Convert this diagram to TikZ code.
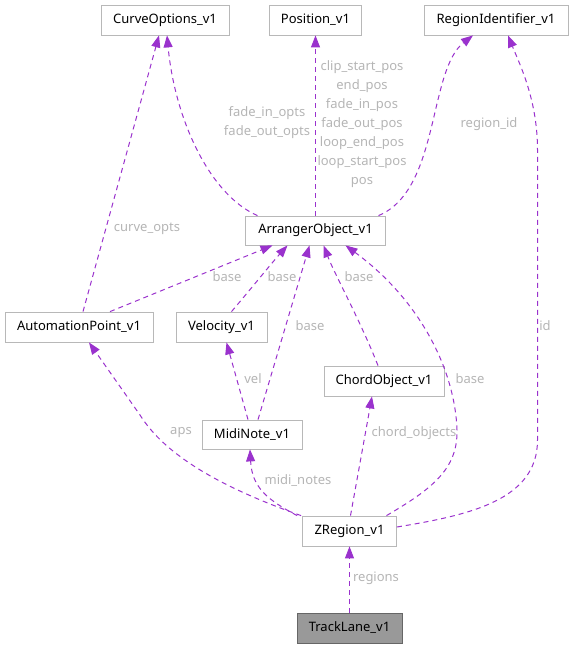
\documentclass[tikz,border=0pt]{standalone}
\usepackage{fontspec}
\setmainfont{Noto Sans}
\usetikzlibrary{arrows.meta,calc}
\definecolor{edgec}{HTML}{9A32CD}
\definecolor{lblc}{HTML}{B5B5B5}
\definecolor{boxc}{HTML}{B8B8B8}
\definecolor{tlfill}{HTML}{999999}
\definecolor{tlbord}{HTML}{666666}
\tikzset{
  cls/.style={draw=boxc, line width=0.8pt, fill=white, inner sep=0pt, minimum height=30pt, font=\fontsize{13}{16}\selectfont},
  rel/.style={draw=edgec, line width=1pt, dash pattern=on 5pt off 4pt, -{Triangle[length=12pt,width=9pt]}, fill=none},
  lbl/.style={text=lblc, inner sep=0pt, align=center, font=\fontsize{13}{19}\selectfont},
}
\begin{document}
\begin{tikzpicture}[x=1pt,y=-1pt]
\useasboundingbox (0,0) rectangle (574,648);
% nodes
\node[cls, minimum width=128pt] (co) at (165,20) {CurveOptions\_v1};
\node[cls, minimum width=92pt] (pos) at (315.5,20) {Position\_v1};
\node[cls, minimum width=144pt] (ri) at (496,20) {RegionIdentifier\_v1};
\node[cls, minimum width=140pt, minimum height=29pt] (ao) at (315.5,230.5) {ArrangerObject\_v1};
\node[cls, minimum width=148pt] (ap) at (79,327) {AutomationPoint\_v1};
\node[cls, minimum width=91pt] (vel) at (221.5,327) {Velocity\_v1};
\node[cls, minimum width=100pt, minimum height=29pt] (mn) at (252,434.5) {MidiNote\_v1};
\node[cls, minimum width=120pt] (ch) at (384,381) {ChordObject\_v1};
\node[cls, minimum width=94pt] (zr) at (349.5,531) {ZRegion\_v1};
\node[cls, draw=tlbord, fill=tlfill, minimum width=105pt] (tl) at (349.5,628) {TrackLane\_v1};
% edges
\draw[rel] ($(ap.north)+(4,0)$) -- ($(co.south)+(-6,0)$);
\draw[rel] ($(ao.north)+(-58,0)$) .. controls (210,195) and (175,120) .. ($(co.south)+(2,0)$);
\draw[rel] (ao.north) -- (pos.south);
\draw[rel] ($(ao.north)+(63,0)$) .. controls (440,190) and (428,70) .. ($(ri.south)+(-23,0)$);
\draw[rel] ($(zr.east)+(0,-4)$) .. controls (470,515) and (537.5,500) .. (537.5,440) -- (537.5,150) .. controls (537.5,100) and (520,65) .. ($(ri.south)+(12,0)$);
\draw[rel] ($(ap.north)+(31,0)$) -- ($(ao.south)+(-43,0)$);
\draw[rel] ($(vel.north)+(10,0)$) .. controls (250,290) and (270,265) .. ($(ao.south)+(-28,0)$);
\draw[rel] ($(mn.north)+(6,0)$) -- ($(ao.south)+(-6,0)$);
\draw[rel] ($(ch.north)+(-6,0)$) .. controls (360,320) and (335,275) .. ($(ao.south)+(8,0)$);
\draw[rel] ($(zr.north)+(37,0)$) .. controls (430,490) and (458,470) .. (457,430) .. controls (455,370) and (420,300) .. ($(ao.south)+(30,0)$);
\draw[rel] ($(mn.north)+(-4,0)$) -- ($(vel.south)+(5,0)$);
\draw[rel] ($(zr.north west)+(-1,0)$) .. controls (220,487) and (165,455) .. (140,415) -- ($(ap.south)+(10,0)$);
\draw[rel] ($(zr.north west)+(-5,0)$) .. controls (268,500) and (252,488) .. ($(mn.south)+(-2,0)$);
\draw[rel] ($(zr.north)+(1,0)$) -- ($(ch.south)+(-12,0)$);
\draw[rel] (tl.north) -- (zr.south);
% labels
\node[lbl] (l1) at (147,229) {curve\_opts};
\node[lbl] (l2) at (267,123) {fade\_in\_opts\\fade\_out\_opts};
\node[lbl] (l3) at (362,124) {clip\_start\_pos\\end\_pos\\fade\_in\_pos\\fade\_out\_pos\\loop\_end\_pos\\loop\_start\_pos\\pos};
\node[lbl] (l4) at (489,124) {region\_id};
\node[lbl] (l5) at (545,326) {id};
\node[lbl] (l6) at (227,277) {base};
\node[lbl] (l7) at (282,277) {base};
\node[lbl] (l8) at (310,326) {base};
\node[lbl] (l9) at (359,277) {base};
\node[lbl] (l10) at (470,379) {base};
\node[lbl] (l11) at (253,379) {vel};
\node[lbl] (l12) at (181,433) {aps};
\node[lbl] (l13) at (414,433) {chord\_objects};
\node[lbl] (l14) at (298,481) {midi\_notes};
\node[lbl] (l15) at (376,578) {regions};
\end{tikzpicture}
\end{document}
